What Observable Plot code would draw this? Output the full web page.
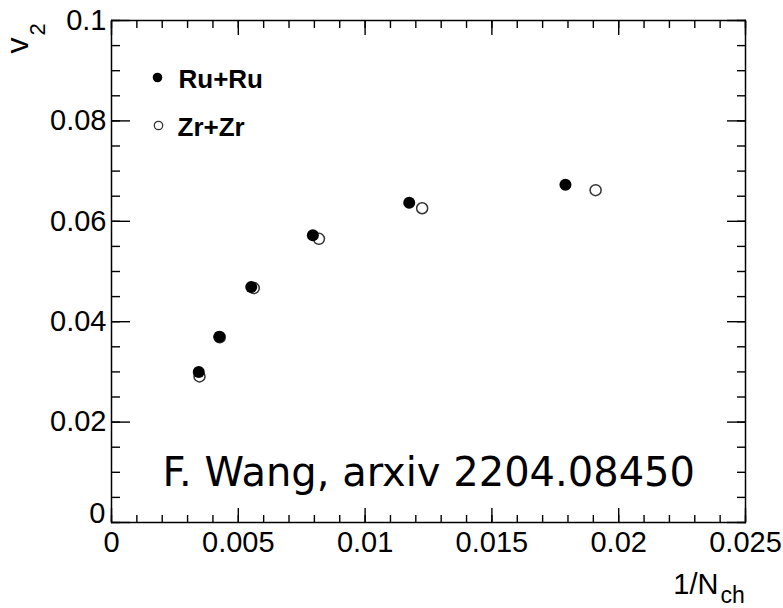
<!DOCTYPE html>
<html><head><meta charset="utf-8">
<script src="https://cdn.jsdelivr.net/npm/d3@7"></script>
<script src="https://cdn.jsdelivr.net/npm/@observablehq/plot@0.6"></script>
<style>body{margin:0;background:#fff}</style>
</head><body><div id="chart"></div>
<script>
// Data
const ruX  = [0.00344, 0.00425, 0.00551, 0.00794, 0.01174, 0.0179];
const ruV2 = [0.0300, 0.0370, 0.0469, 0.0572, 0.0637, 0.0673];
const zrX  = [0.00347, 0.00427, 0.00561, 0.00818, 0.01225, 0.01909];
const zrV2 = [0.0291, 0.0369, 0.0467, 0.0565, 0.0626, 0.0662];

const xMajorTicks = [0, 0.005, 0.01, 0.015, 0.02, 0.025];
const xTickLabels = ["0", "0.005", "0.01", "0.015", "0.02", "0.025"];
const yMajorTicks = [0, 0.02, 0.04, 0.06, 0.08, 0.1];
const yTickLabels = ["0", "0.02", "0.04", "0.06", "0.08", "0.1"];
const xMinorTicks = d3.range(0, 26).map(i => i / 1000);
const yMinorTicks = d3.range(0, 21).map(i => i * 0.005);

const legendNames = ["Ru+Ru", "Zr+Zr"];
const annotation = "F. Wang, arxiv 2204.08450";

const ru = ruX.map((x, i) => ({x, y: ruV2[i]}));
const zr = zrX.map((x, i) => ({x, y: zrV2[i]}));

const FONT = "Liberation Sans, Arial, Helvetica, sans-serif";
const xLab = v => xTickLabels[xMajorTicks.indexOf(v)];
const yLab = v => yTickLabels[yMajorTicks.indexOf(v)];
const blank = () => "";

const tickAxes = [];
for (const anchor of ["bottom", "top"]) {
  tickAxes.push(Plot.axisX({ticks: xMinorTicks, anchor, tickSize: -7, tickFormat: blank, label: null, strokeWidth: 1.4, strokeOpacity: 1}));
  tickAxes.push(Plot.axisX({ticks: xMajorTicks, anchor, tickSize: -14, tickFormat: blank, label: null, strokeWidth: 1.4, strokeOpacity: 1}));
}
for (const anchor of ["left", "right"]) {
  tickAxes.push(Plot.axisY({ticks: yMinorTicks, anchor, tickSize: -9, tickFormat: blank, label: null, strokeWidth: 1.4, strokeOpacity: 1}));
  tickAxes.push(Plot.axisY({ticks: yMajorTicks, anchor, tickSize: -19, tickFormat: blank, label: null, strokeWidth: 1.4, strokeOpacity: 1}));
}

const chart = Plot.plot({
  width: 783,
  height: 608,
  marginLeft: 111,
  marginRight: 38,
  marginTop: 20,
  marginBottom: 86,
  style: {fontFamily: FONT, background: "#fff", color: "#000"},
  x: {domain: [0, 0.025]},
  y: {domain: [0, 0.1]},
  marks: [
    ...tickAxes,
    Plot.axisX({ticks: xMajorTicks, anchor: "bottom", tickSize: 0, tickPadding: 9, tickFormat: xLab, label: null, fontSize: 29, fill: "#000"}),
    Plot.axisY({ticks: yMajorTicks.slice(1), anchor: "left", tickSize: 0, tickPadding: 5, tickFormat: yLab, label: null, fontSize: 29, fill: "#000"}),
    Plot.text([yTickLabels[0]], {y: () => yMajorTicks[0], text: d => d, frameAnchor: "left", textAnchor: "end", lineAnchor: "bottom", dx: -6, dy: 0, fontSize: 29, fill: "#000"}),
    Plot.frame({stroke: "#000", strokeWidth: 1.5}),
    // Data
    Plot.dot(zr, {x: "x", y: "y", r: 5.5, fill: "#fff", stroke: "#333", strokeWidth: 1.5}),
    Plot.dot(ru, {x: "x", y: "y", r: 6, fill: "#000", stroke: "none"}),
    // Legend
    Plot.dot([legendNames[0]], {frameAnchor: "top-left", dx: 46, dy: 57, r: 4.8, fill: "#000"}),
    Plot.dot([legendNames[1]], {frameAnchor: "top-left", dx: 47, dy: 105, r: 4.2, fill: "#fff", stroke: "#333", strokeWidth: 1.3}),
    Plot.text([legendNames[0]], {text: d => d, frameAnchor: "top-left", dx: 67, dy: 59, textAnchor: "start", lineAnchor: "middle", fontSize: 26, fontWeight: "bold", fill: "#000"}),
    Plot.text([legendNames[1]], {text: d => d, frameAnchor: "top-left", dx: 66, dy: 107, textAnchor: "start", lineAnchor: "middle", fontSize: 26, fontWeight: "bold", fill: "#000"}),
    // Annotation
    Plot.text([annotation], {text: d => d, frameAnchor: "bottom-left", dx: 51, dy: -37, textAnchor: "start", lineAnchor: "bottom", fontSize: 40, fontFamily: "DejaVu Sans", fill: "#000"}),
    // Axis titles
    Plot.text(["1/N"], {text: d => d, frameAnchor: "bottom-right", dx: -27, dy: 71, textAnchor: "end", lineAnchor: "bottom", fontSize: 29, fill: "#000"}),
    Plot.text(["ch"], {text: d => d, frameAnchor: "bottom-right", dx: -25, dy: 80, textAnchor: "start", lineAnchor: "bottom", fontSize: 23, fill: "#000"}),
    Plot.text(["v"], {text: d => d, frameAnchor: "top-left", dx: -84, dy: 33, rotate: -90, textAnchor: "start", lineAnchor: "bottom", fontSize: 32, fill: "#000"}),
    Plot.text(["2"], {text: d => d, frameAnchor: "top-left", dx: -67, dy: 15, rotate: -90, textAnchor: "start", lineAnchor: "bottom", fontSize: 22, fill: "#000"})
  ]
});
document.getElementById("chart").appendChild(chart);
</script>
</body></html>
